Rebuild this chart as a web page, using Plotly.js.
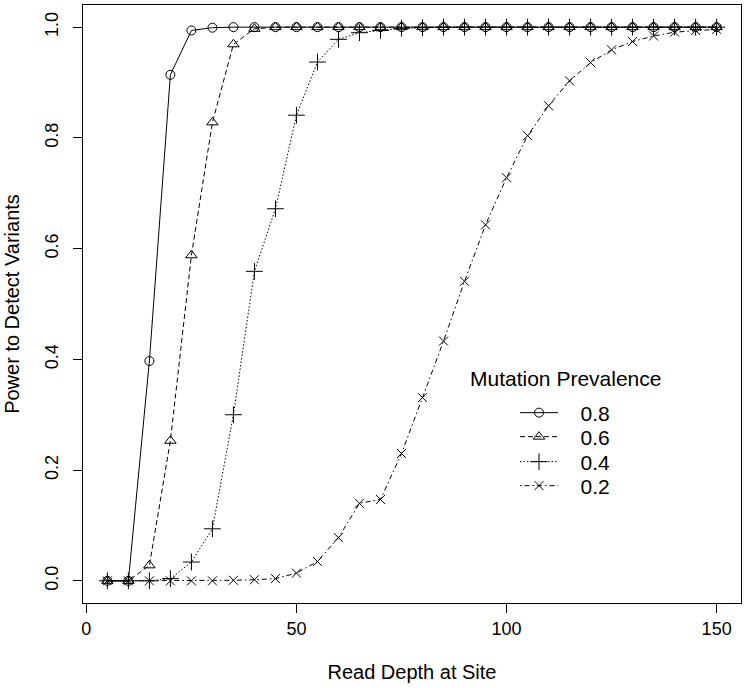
<!DOCTYPE html>
<html>
<head>
<meta charset="utf-8">
<script src="https://cdn.plot.ly/plotly-3.0.1.min.js"></script>
<style>html,body{margin:0;padding:0;background:#fff}#chart{width:745px;height:688px}</style>
</head>
<body>
<div id="chart"></div>
<script>
// Read depth at site (x values)
const depth = [5,10,15,20,25,30,35,40,45,50,55,60,65,70,75,80,85,90,95,100,105,110,115,120,125,130,135,140,145,150];
// Power to detect variants for each mutation prevalence
const power08 = [0,0,0.397,0.914,0.994,0.999,1,1,1,1,1,1,1,1,1,1,1,1,1,1,1,1,1,1,1,1,1,1,1,1];
const power06 = [0,0,0.028,0.253,0.588,0.828,0.969,0.997,1,1,1,1,1,1,1,1,1,1,1,1,1,1,1,1,1,1,1,1,1,1];
const power04 = [0,0,0,0.004,0.034,0.094,0.300,0.559,0.672,0.841,0.937,0.978,0.990,0.994,0.998,0.999,1,1,1,1,1,1,1,1,1,1,1,1,1,1];
const power02 = [0,0,0,0,0,0,0.001,0.002,0.004,0.014,0.035,0.078,0.140,0.147,0.230,0.331,0.433,0.541,0.643,0.728,0.804,0.858,0.903,0.936,0.959,0.974,0.984,0.991,0.994,0.996];
const seriesNames = ["0.8","0.6","0.4","0.2"];
const xTicks = [0,50,100,150];
const yTicks = [0,0.2,0.4,0.6,0.8,1.0];
const yTickText = ["0.0","0.2","0.4","0.6","0.8","1.0"];
const legendTitle = "Mutation Prevalence";

const FONT = "Liberation Sans, Arial, Helvetica, sans-serif";
const styles = [
  {dash:"solid", symbol:"circle-open", size:9},
  {dash:"5px,3px", symbol:"triangle-up-open", size:10},
  {dash:"1.5px,2px", symbol:"cross-thin-open", size:12},
  {dash:"1.5px,3px,5px,3px", symbol:"x-thin-open", size:9}
];
const legendIds = ["legend","legend2","legend3","legend4"];
const legendRowY = [413, 437, 462, 486]; // pixel centres of legend rows
const ys = [power08, power06, power04, power02];
const traces = ys.map((y,i)=>({
  x: depth, y: y, type:"scatter", mode:"lines+markers",
  name: "\u00a0\u00a0\u00a0" + seriesNames[i], legend: legendIds[i],
  line:{color:"#000", width:1, dash:styles[i].dash},
  marker:{symbol:styles[i].symbol, size:styles[i].size, color:"#000", line:{color:"#000", width:1}}
}));

const layout = {
  width:745, height:688,
  margin:{l:83, r:4, t:5, b:85},
  paper_bgcolor:"#fff", plot_bgcolor:"#fff",
  font:{family:FONT, color:"#000", size:18},
  showlegend:true,
  xaxis:{
    range:[-0.8,155.8], tickvals:xTicks, ticks:"outside", ticklen:9, tickwidth:1, tickcolor:"#000",
    showline:true, mirror:true, linecolor:"#000", linewidth:1, showgrid:false, zeroline:false,
    tickfont:{size:18, family:FONT},
    title:{text:"Read Depth at Site", font:{size:20, family:FONT}, standoff:27}
  },
  yaxis:{
    range:[-0.04,1.04], tickvals:yTicks, ticktext:yTickText, tickangle:-90, ticks:"outside", ticklen:9, tickwidth:1, tickcolor:"#000",
    showline:true, mirror:true, linecolor:"#000", linewidth:1, showgrid:false, zeroline:false,
    tickfont:{size:18, family:FONT}, ticklabelstandoff:8,
    title:{text:"Power to Detect Variants", font:{size:20, family:FONT}, standoff:16}
  },
  annotations:[{
    text:legendTitle, xref:"paper", yref:"paper", x:(468-83)/658, y:1-(378-5)/598,
    xanchor:"left", yanchor:"middle", showarrow:false, font:{size:21, family:FONT}
  }]
};
legendIds.forEach((id,i)=>{
  layout[id] = {
    x:(515-83)/658, y:1-(legendRowY[i]-5)/598, xanchor:"left", yanchor:"middle",
    bgcolor:"rgba(0,0,0,0)", borderwidth:0, font:{size:21, family:FONT}, itemwidth:38
  };
});
Plotly.newPlot("chart", traces, layout, {staticPlot:true, displayModeBar:false});
</script>
</body>
</html>
